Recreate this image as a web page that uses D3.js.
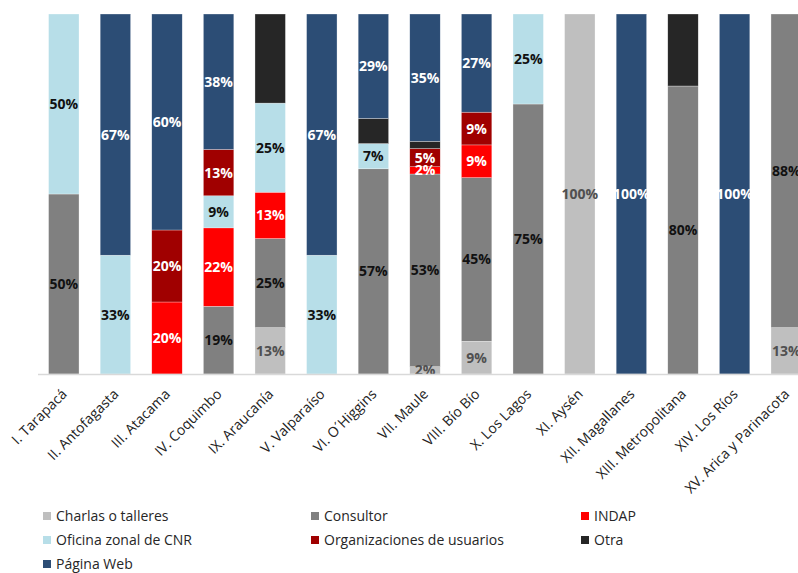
<!DOCTYPE html>
<html><head><meta charset="utf-8">
<script src="https://cdn.jsdelivr.net/npm/d3@7"></script>
<style>body{margin:0;background:#fff;overflow:hidden}svg{display:block}</style>
</head><body>
<svg id="c" width="798" height="573"></svg>
<script>
const categories = ["I. Tarapacá","II. Antofagasta","III. Atacama","IV. Coquimbo","IX. Araucanía","V. Valparaíso","VI. O´Higgins","VII. Maule","VIII. Bío Bío","X. Los Lagos","XI. Aysén","XII. Magallanes","XIII. Metropolitana","XIV. Los Ríos","XV. Arica y Parinacota"];
const seriesNames = ["Charlas o talleres","Consultor","INDAP","Oficina zonal de CNR","Organizaciones de usuarios","Otra","Página Web"];
const charlas     = [0, 0, 0, 0, 13, 0, 0, 2, 9, 0, 100, 0, 0, 0, 13];
const consultor   = [50, 0, 0, 19, 25, 0, 57, 53, 45, 75, 0, 0, 80, 0, 88];
const indap       = [0, 0, 20, 22, 13, 0, 0, 2, 9, 0, 0, 0, 0, 0, 0];
const oficina     = [50, 33, 0, 9, 25, 33, 7, 0, 0, 25, 0, 0, 0, 0, 0];
const organizac   = [0, 0, 20, 13, 0, 0, 0, 5, 9, 0, 0, 0, 0, 0, 0];
const otra        = [0, 0, 0, 0, 25, 0, 7, 2, 0, 0, 0, 0, 20, 0, 0];
const paginaWeb   = [0, 67, 60, 38, 0, 67, 29, 35, 27, 0, 0, 100, 0, 100, 0];
const seriesValues = [charlas, consultor, indap, oficina, organizac, otra, paginaWeb];
const colors = ["#BFBFBF","#808080","#FF0000","#B7DEE8","#A00000","#262626","#2C4D75"];
const labelColors = ["#505050","#111111","#ffffff","#111111","#ffffff",null,"#ffffff"];

const rows = categories.map((c,i)=>{const o={cat:c}; seriesNames.forEach((s,j)=>o[s]=seriesValues[j][i]); return o;});
const stack = d3.stack().keys(seriesNames).offset(d3.stackOffsetExpand)(rows);

const svg = d3.select("#c");
const x = d3.scaleBand().domain(categories).range([38, 812]).paddingInner(0.41).paddingOuter(0.205);
const y = d3.scaleLinear().domain([0,1]).range([374, 14]);

const g = svg.append("g");
stack.forEach((layer,j)=>{
  g.selectAll(null).data(layer.filter(d=>d[1]-d[0]>0)).enter().append("rect")
    .attr("x",d=>x(d.data.cat)).attr("width",x.bandwidth())
    .attr("y",d=>y(d[1])).attr("height",d=>y(d[0])-y(d[1]))
    .attr("fill",colors[j]).attr("stroke","#ffffff").attr("stroke-width",0.5).attr("stroke-opacity",0.6);
});
// axis
const xAxis = svg.append("g").attr("transform","translate(0,374)").call(d3.axisBottom(x).tickSize(0).tickFormat(""));
xAxis.select(".domain").attr("stroke","#D9D9D9").attr("stroke-width",1.5).attr("d","M38,0.5H798");
// labels
stack.forEach((layer,j)=>{
  if(!labelColors[j]) return;
  g.selectAll(null).data(layer.filter(d=>d[1]-d[0]>0)).enter().append("text")
    .attr("x",d=>x(d.data.cat)+x.bandwidth()/2).attr("y",d=>y((d[0]+d[1])/2))
    .attr("dy","0.36em").attr("text-anchor","middle")
    .attr("font-family","'Open Sans', sans-serif").attr("font-size",14).attr("font-weight","bold")
    .attr("fill",labelColors[j])
    .text(d=>seriesValues[j][categories.indexOf(d.data.cat)]+"%");
});
// category labels
svg.append("g").selectAll("text").data(categories).enter().append("text")
  .attr("transform",d=>`translate(${x(d)+x.bandwidth()/2+4},395) rotate(-45)`)
  .attr("text-anchor","end").attr("font-family","'Open Sans', sans-serif").attr("font-size",14)
  .attr("fill","#222").text(d=>d);
// legend
const legPos = [[43,516],[311,516],[581,516],[43,540],[311,540],[581,540],[43,564]];
const leg = svg.append("g");
seriesNames.forEach((s,j)=>{
  const [lx,ly]=legPos[j];
  leg.append("rect").attr("x",lx).attr("y",ly-4).attr("width",8).attr("height",8).attr("fill",colors[j]);
  leg.append("text").attr("x",lx+13).attr("y",ly).attr("dy","0.35em").attr("font-family","'Open Sans', sans-serif")
    .attr("font-size",14).attr("fill","#262626").text(s);
});
</script>
</body></html>
